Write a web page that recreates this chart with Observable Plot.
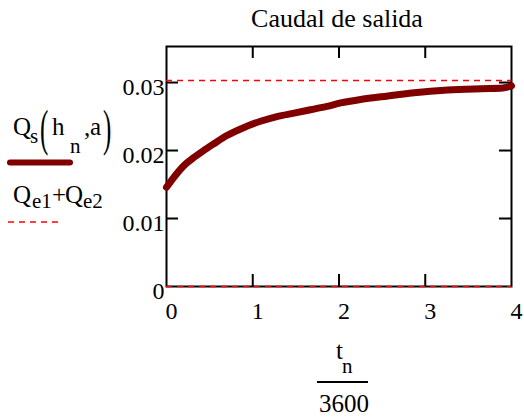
<!DOCTYPE html>
<html>
<head>
<meta charset="utf-8">
<script src="https://cdn.jsdelivr.net/npm/d3@7"></script>
<script src="https://cdn.jsdelivr.net/npm/@observablehq/plot@0.6"></script>
<style>
  html, body { margin: 0; padding: 0; background: #fff; }
</style>
</head>
<body>
<div id="chart"></div>
<script>
// ---- data ----
const title = "Caudal de salida";
const tHours = [0, 0.1, 0.22, 0.32, 0.43, 0.55, 0.7, 0.9, 1.09, 1.28, 1.48, 1.67, 1.86, 2.02, 2.25, 2.49, 2.87, 3.26, 3.65, 3.9, 4.0];
const qSalida = [0.0146, 0.0163, 0.0180, 0.0190, 0.0200, 0.0210, 0.0222, 0.0234, 0.0243, 0.0250, 0.0255, 0.0260, 0.0265, 0.0270, 0.0275, 0.0279, 0.0285, 0.0289, 0.0291, 0.0292, 0.0295];
const qEntrada = [0.0303];          // Qe1 + Qe2 (constant)
const qZero = [0];                  // dashed trace along zero
const xTicks = [0, 1, 2, 3, 4];
const xInnerTicks = [1, 2, 3];
const yTicks = [0, 0.01, 0.02, 0.03];
const yTickLabels = ["0", "0.01", "0.02", "0.03"];
const yInnerTicks = [0.01, 0.02, 0.03];

const curve = tHours.map((t, i) => ({t, q: qSalida[i]}));
const yLab = yTicks.map((v, i) => ({v, label: yTickLabels[i]}));

const font = '"Liberation Serif", "Times New Roman", serif';
const W = 524, H = 417, mL = 166, mR = 13, mT = 46, mB = 131;
const innerW = W - mL - mR, innerH = H - mT - mB, tickLen = 12;
const darkRed = "#800000", red = "#ff0000";

const svg = Plot.plot({
  width: W, height: H,
  marginLeft: mL, marginRight: mR, marginTop: mT, marginBottom: mB,
  x: {domain: [0, 4], axis: null},
  y: {domain: [0, 0.0353], axis: null},
  style: {fontFamily: font, background: "white", color: "black", overflow: "visible"},
  marks: [
    Plot.frame({stroke: "black", strokeWidth: 2}),
    Plot.tickX(xInnerTicks, {x: d => d, insetTop: innerH - tickLen, stroke: "black", strokeWidth: 2}),
    Plot.tickX(xInnerTicks, {x: d => d, insetBottom: innerH - tickLen, stroke: "black", strokeWidth: 2}),
    Plot.tickY(yInnerTicks, {y: d => d, insetRight: innerW - tickLen, stroke: "black", strokeWidth: 2}),
    Plot.tickY(yInnerTicks, {y: d => d, insetLeft: innerW - tickLen, stroke: "black", strokeWidth: 2}),
    Plot.ruleY(qEntrada, {y: d => d, stroke: red, strokeWidth: 1.5, strokeDasharray: "6,5"}),
    Plot.ruleY(qZero, {y: d => d, stroke: red, strokeWidth: 1.5, strokeDasharray: "6,5"}),
    Plot.line(curve, {x: "t", y: "q", stroke: darkRed, strokeWidth: 7, curve: "monotone-x", strokeLinecap: "round"}),
    Plot.text(xTicks, {x: d => d, frameAnchor: "bottom", text: d => String(d), textAnchor: "start", lineAnchor: "bottom", dy: 32, dx: -1, fontSize: 24, fill: "black", fontFamily: font}),
    Plot.text(yLab, {y: "v", frameAnchor: "left", text: "label", textAnchor: "end", lineAnchor: "bottom", dy: 12, dx: -2, fontSize: 24, fill: "black", fontFamily: font})
  ]
});

document.getElementById("chart").appendChild(svg);

// ---- text outside the plot frame (title, legend, x-axis expression) ----
const s = d3.select(svg);
function piece(x, y, str, size, anchor = "start") {
  s.append("text").attr("x", x).attr("y", y).attr("text-anchor", anchor)
    .style("font-size", size + "px").style("font-family", font).attr("fill", "black").text(str);
}
function paren(x, y, str) {
  s.append("text").attr("transform", `translate(${x},${y}) scale(1,2)`).attr("text-anchor", "start")
    .style("font-size", "25px").style("font-family", font).attr("fill", "black").text(str);
}

// title
piece(337, 27, title, 26, "middle");

// legend entry 1: Qs(hn, a)
piece(13, 135, "Q", 25);
piece(30, 143, "s", 21);
paren(40, 145, "(");
piece(52, 135, "h", 25);
piece(70, 153, "n", 21);
piece(84, 136, ",", 25);
piece(90, 135, "a", 25);
paren(103, 145, ")");
s.append("line").attr("x1", 10).attr("x2", 70).attr("y1", 162.5).attr("y2", 162.5)
  .attr("stroke", darkRed).attr("stroke-width", 6).attr("stroke-linecap", "round");

// legend entry 2: Qe1+Qe2
piece(13, 203, "Q", 25);
piece(32, 208, "e1", 21);
piece(52, 203, "+", 25);
piece(65, 203, "Q", 25);
piece(83, 208, "e2", 21);
s.append("line").attr("x1", 8).attr("x2", 62).attr("y1", 222).attr("y2", 222)
  .attr("stroke", red).attr("stroke-width", 1.5).attr("stroke-dasharray", "6,5");

// x-axis expression: t_n / 3600
piece(336, 359, "t", 25);
piece(342, 373, "n", 21);
s.append("line").attr("x1", 317).attr("x2", 368).attr("y1", 382).attr("y2", 382)
  .attr("stroke", "black").attr("stroke-width", 2);
piece(344, 412, "3600", 25, "middle");
</script>
</body>
</html>
